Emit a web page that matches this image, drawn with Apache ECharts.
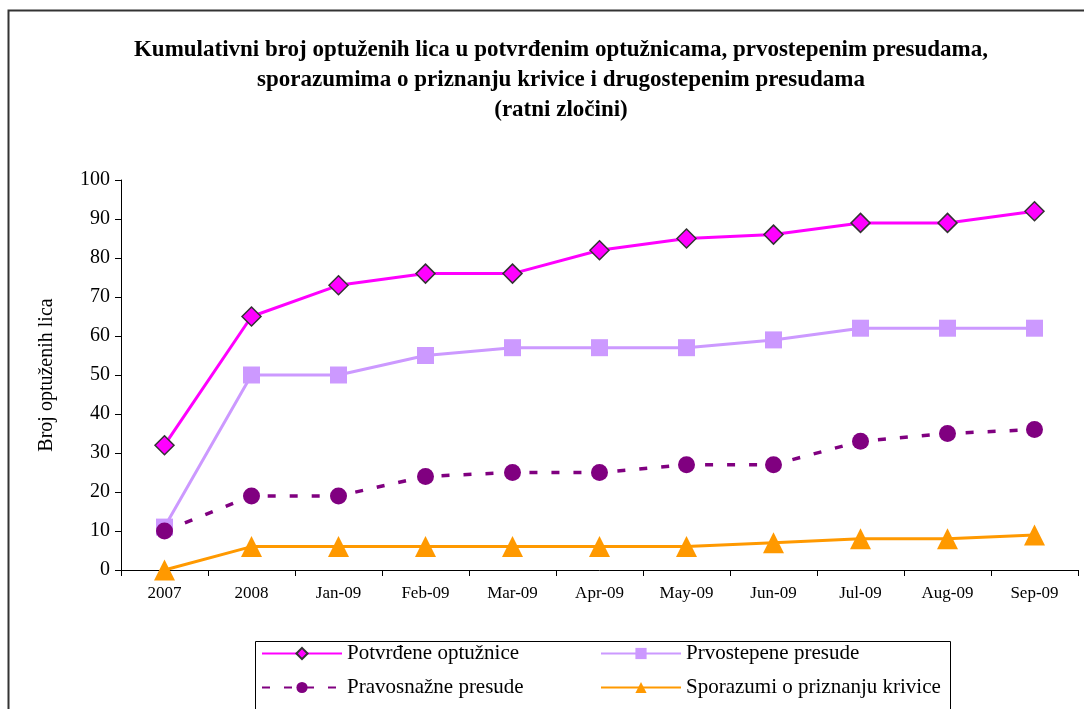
<!DOCTYPE html>
<html>
<head>
<meta charset="utf-8">
<script src="https://cdn.jsdelivr.net/npm/echarts@6/dist/echarts.min.js"></script>
<style>
  html, body { margin: 0; padding: 0; background: #fff; }
  #chart { width: 1084px; height: 709px; }
</style>
</head>
<body>
<div id="chart"></div>
<script>
// kategorije na x osi
var categories = ['2007', '2008', 'Jan-09', 'Feb-09', 'Mar-09', 'Apr-09', 'May-09', 'Jun-09', 'Jul-09', 'Aug-09', 'Sep-09'];
// serije
var potvrdene = [32, 65, 73, 76, 76, 82, 85, 86, 89, 89, 92];
var prvostepene = [11, 50, 50, 55, 57, 57, 57, 59, 62, 62, 62];
var pravosnazne = [10, 19, 19, 24, 25, 25, 27, 27, 33, 35, 36];
var sporazumi = [0, 6, 6, 6, 6, 6, 6, 7, 8, 8, 9];

var serif = '"Liberation Serif", "Times New Roman", serif';

var chart = echarts.init(document.getElementById('chart'));
chart.setOption({
  animation: false,
  title: {
    text: 'Kumulativni broj optuženih lica u potvrđenim optužnicama, prvostepenim presudama,\nsporazumima o priznanju krivice i drugostepenim presudama\n(ratni zločini)',
    left: 556,
    textAlign: 'center',
    top: 30,
    textStyle: {
      fontFamily: serif,
      fontWeight: 'bold',
      fontSize: 23,
      lineHeight: 30,
      color: '#000'
    }
  },
  graphic: [
    {
      type: 'rect',
      shape: { x: 8.5, y: 10.5, width: 1100, height: 720 },
      style: { fill: 'none', stroke: '#333', lineWidth: 2 }
    },
    {
      type: 'rect',
      shape: { x: 255.5, y: 641.5, width: 695, height: 80 },
      style: { fill: 'none', stroke: '#000', lineWidth: 1 }
    }
  ],
  legend: [
    {
      data: ['Potvrđene optužnice', 'Pravosnažne presude'],
      orient: 'vertical',
      left: 256,
      top: 638,
      itemWidth: 80,
      itemHeight: 14,
      itemGap: 13,
      textStyle: { fontFamily: serif, fontSize: 21, color: '#000' }
    },
    {
      data: ['Prvostepene presude', 'Sporazumi o priznanju krivice'],
      orient: 'vertical',
      left: 595,
      top: 638,
      itemWidth: 80,
      itemHeight: 14,
      itemGap: 13,
      textStyle: { fontFamily: serif, fontSize: 21, color: '#000' }
    }
  ],
  grid: { left: 121, right: 6, top: 180, bottom: 139 },
  xAxis: {
    type: 'category',
    data: categories,
    boundaryGap: true,
    axisLine: { lineStyle: { color: '#000', width: 1 } },
    axisTick: { show: true, length: 6, lineStyle: { color: '#000' } },
    axisLabel: { fontFamily: serif, fontSize: 17, color: '#000', margin: 15 }
  },
  yAxis: {
    type: 'value',
    min: 0,
    max: 100,
    interval: 10,
    name: 'Broj optuženih lica',
    nameLocation: 'middle',
    nameGap: 64,
    nameTextStyle: { fontFamily: serif, fontSize: 20, color: '#000' },
    splitLine: { show: false },
    axisLine: { show: true, lineStyle: { color: '#000', width: 1 } },
    axisTick: { show: true, length: 6, lineStyle: { color: '#000' } },
    axisLabel: { fontFamily: serif, fontSize: 20, color: '#000', margin: 11 }
  },
  series: [
    {
      name: 'Potvrđene optužnice',
      type: 'line',
      data: potvrdene,
      symbol: 'diamond',
      symbolSize: 19,
      lineStyle: { color: '#FF00FF', width: 3 },
      itemStyle: { color: '#FF00FF', borderColor: '#333', borderWidth: 1.5 },
      z: 5
    },
    {
      name: 'Prvostepene presude',
      type: 'line',
      data: prvostepene,
      symbol: 'rect',
      symbolSize: 17,
      lineStyle: { color: '#CC99FF', width: 3 },
      itemStyle: { color: '#CC99FF', borderWidth: 0 },
      z: 3
    },
    {
      name: 'Pravosnažne presude',
      type: 'line',
      data: pravosnazne,
      symbol: 'circle',
      symbolSize: 17,
      lineStyle: { color: '#800080', width: 3.5, type: [8, 14] },
      itemStyle: { color: '#800080', borderWidth: 0 },
      z: 4
    },
    {
      name: 'Sporazumi o priznanju krivice',
      type: 'line',
      data: sporazumi,
      symbol: 'triangle',
      symbolSize: 21,
      lineStyle: { color: '#FF9900', width: 3 },
      itemStyle: { color: '#FF9900', borderWidth: 0 },
      z: 2
    }
  ]
});
</script>
</body>
</html>
